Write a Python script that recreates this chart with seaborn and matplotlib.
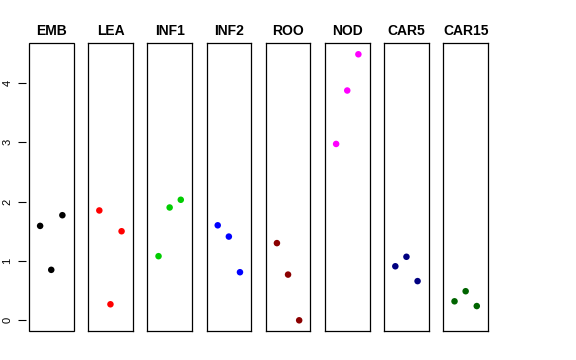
import pandas as pd
import matplotlib
matplotlib.use('Agg')
import matplotlib.pyplot as plt
import seaborn as sns

# Values
groups = ['EMB', 'LEA', 'INF1', 'INF2', 'ROO', 'NOD', 'CAR5', 'CAR15']
colors = ['black', 'red', '#00CD00', 'blue', '#8B0000', 'magenta', '#000080', '#006400']
rep = [1, 2, 3]
emb = [1.59, 0.85, 1.77]
lea = [1.85, 0.27, 1.50]
inf1 = [1.08, 1.90, 2.03]
inf2 = [1.60, 1.41, 0.81]
roo = [1.30, 0.77, 0.00]
nod = [2.97, 3.87, 4.48]
car5 = [0.91, 1.07, 0.66]
car15 = [0.32, 0.49, 0.24]
values = [emb, lea, inf1, inf2, roo, nod, car5, car15]

rows = []
for g, v in zip(groups, values):
    for r, y in zip(rep, v):
        rows.append({'group': g, 'rep': r, 'value': y})
df = pd.DataFrame(rows)

sns.set_style('white')
plt.rcParams['font.family'] = ['Liberation Sans', 'DejaVu Sans']

fig = plt.figure(figsize=(5.76, 3.6), dpi=100)
W, H = 576, 360
ymin, ymax = -0.18, 4.67

for i, (g, c) in enumerate(zip(groups, colors)):
    left = 29 + i * 59.2
    ax = fig.add_axes([left / W, 29 / H, 44.5 / W, 288 / H])
    sns.scatterplot(data=df[df['group'] == g], x='rep', y='value', color=c,
                    s=22, edgecolor='none', ax=ax, legend=False)
    ax.set_xlim(0, 4)
    ax.set_ylim(ymin, ymax)
    ax.set_xticks([])
    ax.set_xlabel('')
    ax.set_ylabel('')
    ax.set_title(g, fontsize=10, fontweight='bold', pad=6, color='black')
    for s in ax.spines.values():
        s.set_color('black')
        s.set_linewidth(0.9)
        s.set_visible(True)
    if i == 0:
        # frame drawn by the patch, left spine moved out to carry the ticks
        for s in ['top', 'right', 'bottom']:
            ax.spines[s].set_visible(False)
        ax.patch.set_edgecolor('black')
        ax.patch.set_linewidth(0.9)
        ax.spines['left'].set_position(('outward', 2))
        ax.spines['left'].set_color('none')
        ax.set_yticks([0, 1, 2, 3, 4])
        ax.tick_params(axis='y', left=True, length=6, width=0.8, pad=4,
                       labelsize=8, labelrotation=90, direction='out',
                       color='black', labelcolor='black')
        for lab in ax.get_yticklabels():
            lab.set_va('center')
    else:
        ax.set_yticks([])

fig.savefig('out.png', dpi=100)
